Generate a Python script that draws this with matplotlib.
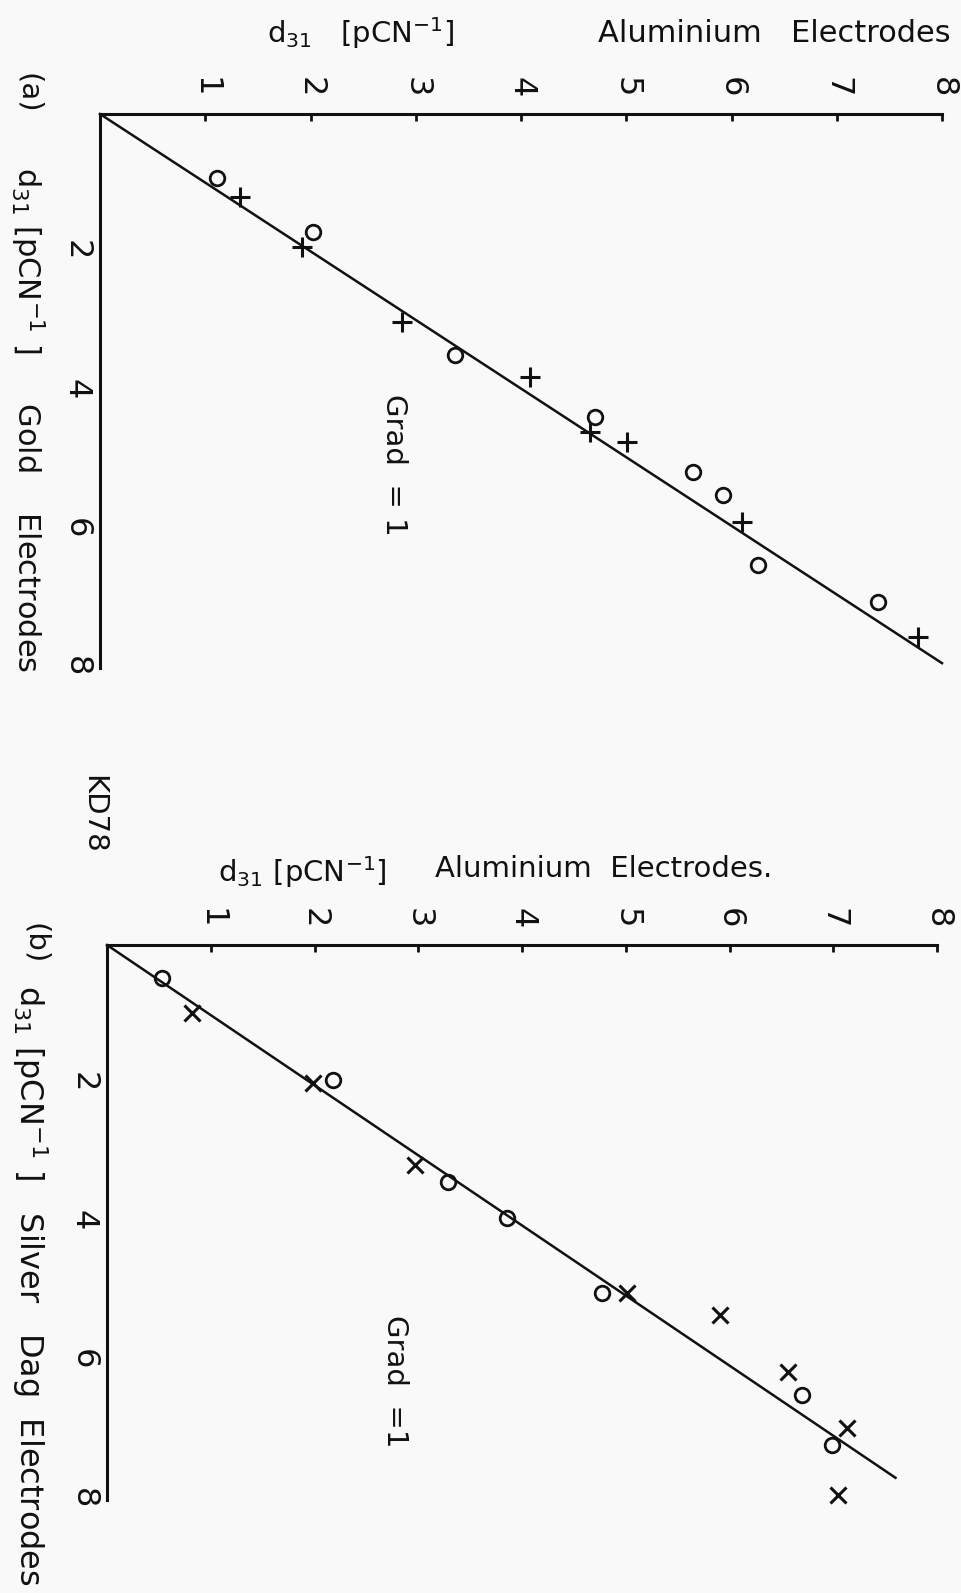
import matplotlib
matplotlib.use("Agg")
import matplotlib.pyplot as plt

plt.rcParams['font.family'] = ['DejaVu Sans']
plt.rcParams['mathtext.default'] = 'regular'

# panel (a): aluminium vs gold electrodes
al_a_circ = [1.11, 2.02, 3.37, 4.70, 5.63, 5.92, 6.25, 7.39]
au_a_circ = [0.92, 1.70, 3.48, 4.37, 5.17, 5.50, 6.51, 7.05]
al_a_cross = [1.33, 1.92, 2.87, 4.09, 4.66, 5.01, 6.10, 7.77]
au_a_cross = [1.20, 1.92, 3.00, 3.80, 4.59, 4.74, 5.89, 7.55]
fit_a_al = [0.0, 8.0]
fit_a_au = [0.0, 7.93]

# panel (b): aluminium vs silver dag electrodes
al_b_circ = [0.53, 2.18, 3.29, 3.86, 4.77, 6.70, 6.99]
ag_b_circ = [0.48, 1.95, 3.41, 3.93, 5.01, 6.48, 7.20]
al_b_cross = [0.82, 1.99, 2.97, 5.01, 5.91, 6.56, 7.13, 7.05]
ag_b_cross = [0.98, 1.99, 3.17, 5.01, 5.33, 6.15, 6.96, 7.93]
fit_b_al = [0.0, 7.60]
fit_b_ag = [0.0, 7.68]

al_ticks = [1, 2, 3, 4, 5, 6, 7, 8]
side_ticks = [2, 4, 6, 8]

W, H = 961, 1593
ink = '#111111'
paper = '#f9f9f9'
fs = 21
tick_fs = 23

fig = plt.figure(figsize=(W / 100, H / 100), dpi=100, facecolor=paper)


def px(x, y):
    return x / W, 1 - y / H


def make_axes(x0, y0, x1, y1):
    ax = fig.add_axes([x0 / W, 1 - y1 / H, (x1 - x0) / W, (y1 - y0) / H])
    ax.set_facecolor('none')
    ax.set_xlim(0, 8)
    ax.set_ylim(8, 0)
    for s in ['right', 'bottom']:
        ax.spines[s].set_visible(False)
    for s in ['top', 'left']:
        ax.spines[s].set_linewidth(2.2)
        ax.spines[s].set_color(ink)
    ax.xaxis.tick_top()
    ax.set_xticks(al_ticks)
    ax.set_xticklabels([str(t) for t in al_ticks])
    ax.set_yticks(side_ticks)
    ax.set_yticklabels([str(t) for t in side_ticks])
    ax.tick_params(axis='x', direction='in', length=5, width=2, color=ink,
                   labelsize=tick_fs, labelrotation=270, pad=12, labelcolor=ink)
    ax.tick_params(axis='y', length=0, labelsize=tick_fs, labelrotation=270,
                   pad=6, labelcolor=ink)
    return ax


ax_a = make_axes(100, 114, 942, 668)
ax_a.plot(fit_a_al, fit_a_au, color=ink, lw=1.8, clip_on=False)
ax_a.plot(al_a_circ, au_a_circ, 'o', mfc='none', mec=ink, ms=10.5, mew=2, clip_on=False)
ax_a.plot(al_a_cross, au_a_cross, '+', color=ink, ms=14, mew=2.2, clip_on=False)

ax_b = make_axes(107, 945, 937, 1500)
ax_b.plot(fit_b_al, fit_b_ag, color=ink, lw=1.8, clip_on=False)
ax_b.plot(al_b_circ, ag_b_circ, 'o', mfc='none', mec=ink, ms=10.5, mew=2, clip_on=False)
ax_b.plot(al_b_cross, ag_b_cross, 'x', color=ink, ms=11, mew=2.2, clip_on=False)


def label(x, y, s, size=fs, **kw):
    fig.text(*px(x, y), s, color=ink, fontsize=size, **kw)


# panel (a) texts
label(267, 43, r'$d_{31}$   [pCN$^{-1}$]', ha='left', va='baseline')
label(951, 42, 'Aluminium   Electrodes', size=22, ha='right', va='baseline')
label(28, 73, '(a)', rotation=270, ha='center', va='top')
label(27, 167, r'$d_{31}$ [pCN$^{-1}$ ]     Gold    Electrodes', size=22,
      rotation=270, ha='center', va='top')
label(394, 465, 'Grad  = 1', rotation=270, ha='center', va='center')

# panel (b) texts
label(218, 882, r'$d_{31}$ [pCN$^{-1}$]', ha='left', va='baseline')
label(435, 877, 'Aluminium  Electrodes.', ha='left', va='baseline')
label(93, 775, 'KD78', rotation=270, ha='center', va='top')
label(35, 923, '(b)', rotation=270, ha='center', va='top')
label(30, 985, r'$d_{31}$ [pCN$^{-1}$ ]   Silver   Dag  Electrodes', size=23,
      rotation=270, ha='center', va='top')
label(395, 1381, 'Grad  =1', rotation=270, ha='center', va='center')

fig.savefig('out.png', dpi=100, facecolor=paper)
